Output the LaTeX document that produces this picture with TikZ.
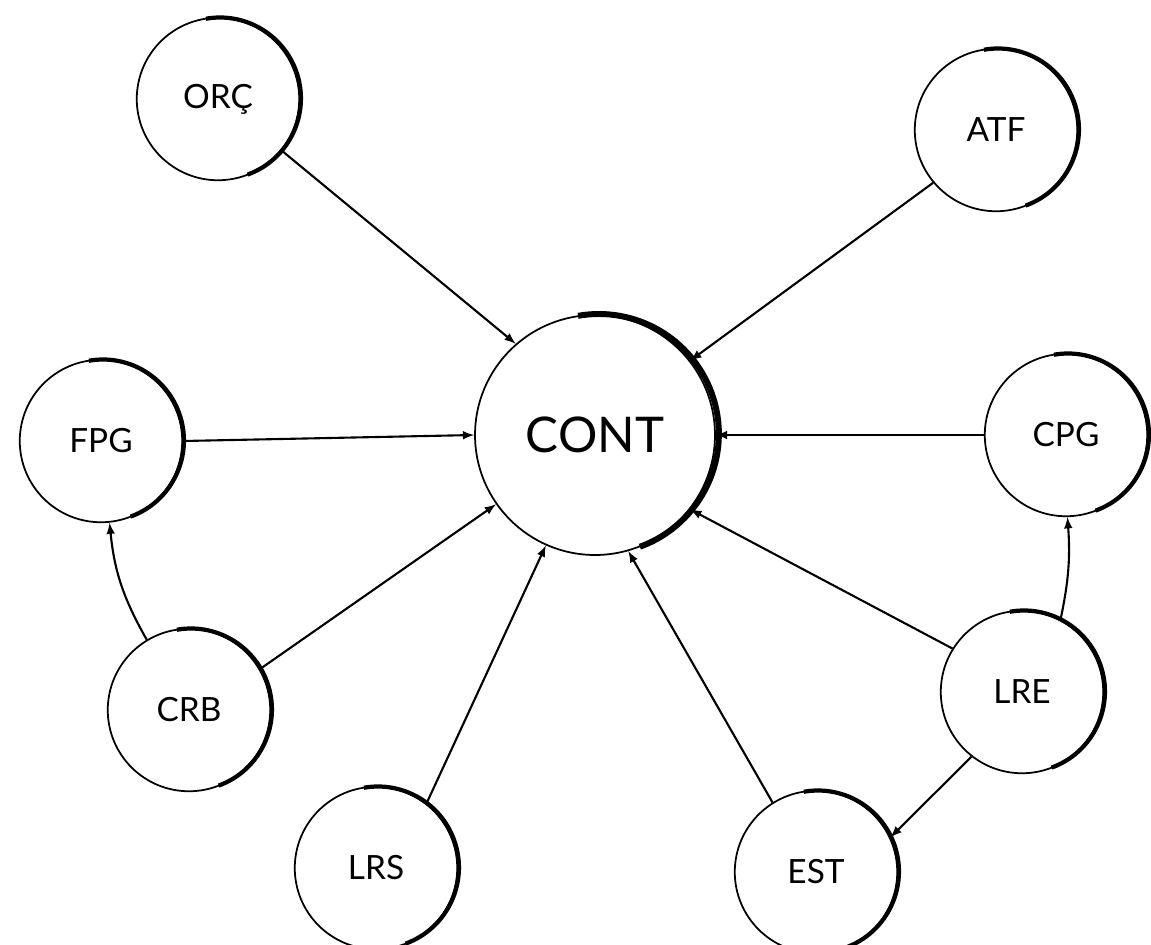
\documentclass[tikz,border=0pt]{standalone}
\usepackage{fontspec}
\setmainfont{Lato}
\usepackage{tikz}
\usetikzlibrary{shapes,arrows,positioning,calc}
\newcommand{\rimwidth}{2.4pt}

\begin{document}
\begin{tikzpicture}[x=0.02cm, y=-0.02cm, >=latex,
    ent/.style={circle, draw, line width=1pt, minimum size=3.25cm, inner sep=0pt, font=\fontsize{19}{23}\selectfont},
    link/.style={->, line width=1.2pt}]
    \useasboundingbox (0,0) rectangle (1151,944);
    \node[ent] (orc) at (218,99) {ORÇ};
    \node[ent] (atf) at (996,130) {ATF};
    \node[ent, minimum size=4.8cm, font=\fontsize{28}{34}\selectfont] (cont) at (595,435) {CONT};
    \node[ent] (fpg) at (101,441) {FPG};
    \node[ent] (cpg) at (1066,435) {CPG};
    \node[ent] (crb) at (189,710) {CRB};
    \node[ent] (lre) at (1022,692) {LRE};
    \node[ent] (lrs) at (376,868) {LRS};
    \node[ent] (est) at (816,872) {EST};
    \foreach \n/\r/\s/\w in {orc/1.62/0.04/\rimwidth, atf/1.62/0.04/\rimwidth, fpg/1.62/0.04/\rimwidth, cpg/1.62/0.04/\rimwidth, crb/1.62/0.04/\rimwidth, lre/1.62/0.04/\rimwidth, lrs/1.62/0.04/\rimwidth, est/1.62/0.04/\rimwidth, cont/2.4/0.08/3.4pt}
        \draw[line width=\w] ([shift={(15:\s cm)}]\n.center) ++(-70:\r cm) arc[start angle=-70, end angle=100, radius=\r cm];
    \draw[link] (orc.-39) -- (cont.131);
    \draw[link] (atf.220) -- (cont.38);
    \draw[link] (fpg.0) -- (cont.180);
    \draw[link] (cpg.180) -- (cont.0);
    \draw[link] (crb.30) -- (cont.215);
    \draw[link] (lrs.52) -- (cont.246);
    \draw[link] (est.122) -- (cont.-74);
    \draw[link] (lre.148) -- (cont.-38);
    \draw[link] (crb.121) to[bend left=12] (fpg.-84);
    \draw[link] (lre.62) to[bend right=8] (cpg.-89);
    \draw[link] (lre.232) -- (est.25);
\end{tikzpicture}
\end{document}
